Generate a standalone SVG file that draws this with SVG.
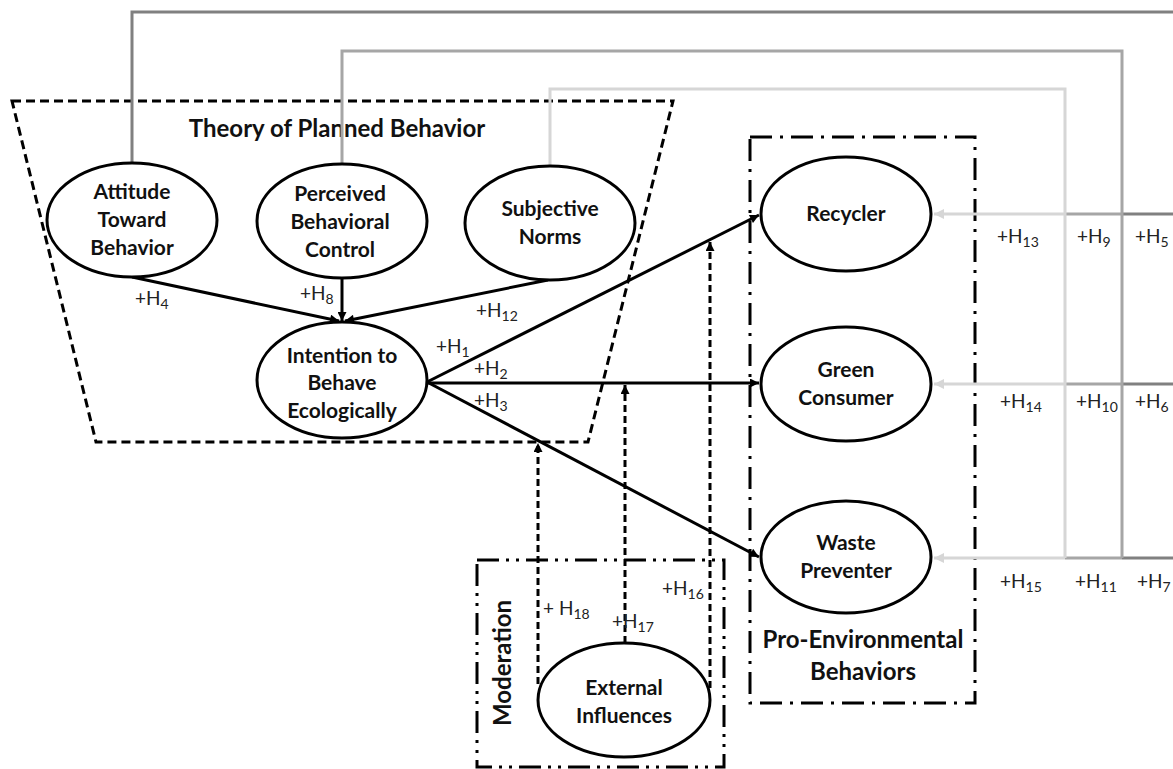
<svg xmlns="http://www.w3.org/2000/svg" width="1173" height="769" viewBox="0 0 1173 769">
<style>
.node ellipse{fill:#fff;stroke:#000;stroke-width:3}
.nt{font-family:Lato,"Open Sans",sans-serif;font-weight:bold;font-size:21px;fill:#111;text-anchor:middle}
.gt{font-family:Lato,"Open Sans",sans-serif;font-weight:bold;font-size:24px;fill:#111;text-anchor:middle}
.lb{font-family:Lato,"Open Sans",sans-serif;font-size:19px;fill:#222}
.sb{font-size:14px}
.blk{stroke:#000;stroke-width:3;fill:none}
.dsh{stroke:#000;stroke-width:3;fill:none;stroke-dasharray:7,4}
.g1{stroke:#808080;stroke-width:3;fill:none}
.g2{stroke:#a6a6a6;stroke-width:3;fill:none}
.g3{stroke:#d6d6d6;stroke-width:3;fill:none}
</style>
<defs>
<marker id="ah" viewBox="0 0 10 10" refX="10" refY="5" markerWidth="11" markerHeight="9" markerUnits="userSpaceOnUse" orient="auto"><path d="M0,0 L10,5 L0,10 z" fill="#000"/></marker>
<marker id="ahg" viewBox="0 0 10 10" refX="10" refY="5" markerWidth="12" markerHeight="10" markerUnits="userSpaceOnUse" orient="auto"><path d="M0,0 L10,5 L0,10 z" fill="#d6d6d6"/></marker>
</defs>

<g id="groups">
<polygon id="tpb-box" points="12,101 673,101 588,442 96,442" fill="none" stroke="#000" stroke-width="3" stroke-dasharray="9,5"/>
<text class="gt" x="337" y="137">Theory of Planned Behavior</text>
<rect id="peb-box" x="750" y="137" width="225" height="566" fill="none" stroke="#000" stroke-width="3" stroke-dasharray="22,8,3,8"/>
<text class="gt" x="863" y="648">Pro-Environmental</text>
<text class="gt" x="863" y="680">Behaviors</text>
<rect id="mod-box" x="477" y="560" width="247" height="207" fill="none" stroke="#000" stroke-width="3" stroke-dasharray="22,7,3,7,3,7"/>
<text class="gt" transform="translate(511,663) rotate(-90)">Moderation</text>
</g>

<g id="connectors">
<path class="g1" d="M132,162 V12 H1173"/>
<path class="g1" d="M1173,214 H1122 M1173,384 H1122 M1173,558 H1122"/>
<path class="g2" d="M342,164 V51 H1122 V558"/>
<path class="g2" d="M1122,214 H1065 M1122,384 H1065 M1122,558 H1065"/>
<path class="g3" d="M550,166 V89 H1065 V558"/>
<path class="g3" d="M1065,214 H934" marker-end="url(#ahg)"/>
<path class="g3" d="M1065,384 H934" marker-end="url(#ahg)"/>
<path class="g3" d="M1065,558 H934" marker-end="url(#ahg)"/>

<line class="blk" x1="132" y1="277" x2="339" y2="321" marker-end="url(#ah)"/>
<line class="blk" x1="342" y1="277" x2="342" y2="321" marker-end="url(#ah)"/>
<line class="blk" x1="548" y1="280" x2="345" y2="321" marker-end="url(#ah)"/>
<line class="blk" x1="427" y1="382" x2="759" y2="215" marker-end="url(#ah)"/>
<line class="blk" x1="427" y1="383" x2="759" y2="383" marker-end="url(#ah)"/>
<line class="blk" x1="427" y1="382" x2="759" y2="557" marker-end="url(#ah)"/>

<line class="dsh" x1="538" y1="684" x2="538" y2="443" marker-end="url(#ah)"/>
<line class="dsh" x1="625" y1="643" x2="625" y2="385" marker-end="url(#ah)"/>
<line class="dsh" x1="710" y1="688" x2="710" y2="242" marker-end="url(#ah)"/>
</g>

<g id="labels">
<text class="lb" x="135" y="305">+H<tspan class="sb" dy="4">4</tspan></text>
<text class="lb" x="300" y="300">+H<tspan class="sb" dy="4">8</tspan></text>
<text class="lb" x="476" y="317">+H<tspan class="sb" dy="4">12</tspan></text>
<text class="lb" x="436" y="353">+H<tspan class="sb" dy="4">1</tspan></text>
<text class="lb" x="474" y="375">+H<tspan class="sb" dy="4">2</tspan></text>
<text class="lb" x="474" y="407">+H<tspan class="sb" dy="4">3</tspan></text>
<text class="lb" x="997" y="243">+H<tspan class="sb" dy="4">13</tspan></text>
<text class="lb" x="1077" y="243">+H<tspan class="sb" dy="4">9</tspan></text>
<text class="lb" x="1135" y="243">+H<tspan class="sb" dy="4">5</tspan></text>
<text class="lb" x="1000" y="408">+H<tspan class="sb" dy="4">14</tspan></text>
<text class="lb" x="1076" y="408">+H<tspan class="sb" dy="4">10</tspan></text>
<text class="lb" x="1135" y="408">+H<tspan class="sb" dy="4">6</tspan></text>
<text class="lb" x="1000" y="588">+H<tspan class="sb" dy="4">15</tspan></text>
<text class="lb" x="1075" y="588">+H<tspan class="sb" dy="4">11</tspan></text>
<text class="lb" x="1137" y="588">+H<tspan class="sb" dy="4">7</tspan></text>
<text class="lb" x="543" y="615">+ H<tspan class="sb" dy="4">18</tspan></text>
<text class="lb" x="612" y="628">+H<tspan class="sb" dy="4">17</tspan></text>
<text class="lb" x="662" y="595">+H<tspan class="sb" dy="4">16</tspan></text>
</g>

<g id="attitude" class="node">
<ellipse cx="132" cy="220" rx="85" ry="57"/>
<text class="nt" x="132" y="199">Attitude</text>
<text class="nt" x="132" y="227">Toward</text>
<text class="nt" x="132" y="255">Behavior</text>
</g>
<g id="pbc" class="node">
<ellipse cx="342" cy="221" rx="85" ry="57"/>
<text class="nt" x="340" y="201">Perceived</text>
<text class="nt" x="340" y="229">Behavioral</text>
<text class="nt" x="340" y="257">Control</text>
</g>
<g id="subjective-norms" class="node">
<ellipse cx="550" cy="223" rx="85" ry="57"/>
<text class="nt" x="550" y="216">Subjective</text>
<text class="nt" x="550" y="244">Norms</text>
</g>
<g id="intention" class="node">
<ellipse cx="342" cy="380" rx="85" ry="58"/>
<text class="nt" x="342" y="363">Intention to</text>
<text class="nt" x="342" y="390">Behave</text>
<text class="nt" x="342" y="418">Ecologically</text>
</g>
<g id="recycler" class="node">
<ellipse cx="846" cy="214" rx="85" ry="57"/>
<text class="nt" x="846" y="221">Recycler</text>
</g>
<g id="green-consumer" class="node">
<ellipse cx="846" cy="384" rx="85" ry="57"/>
<text class="nt" x="846" y="377">Green</text>
<text class="nt" x="846" y="405">Consumer</text>
</g>
<g id="waste-preventer" class="node">
<ellipse cx="846" cy="557" rx="85" ry="56"/>
<text class="nt" x="846" y="550">Waste</text>
<text class="nt" x="846" y="578">Preventer</text>
</g>
<g id="external-influences" class="node">
<ellipse cx="624" cy="700" rx="86" ry="57"/>
<text class="nt" x="624" y="695">External</text>
<text class="nt" x="624" y="723">Influences</text>
</g>
</svg>
